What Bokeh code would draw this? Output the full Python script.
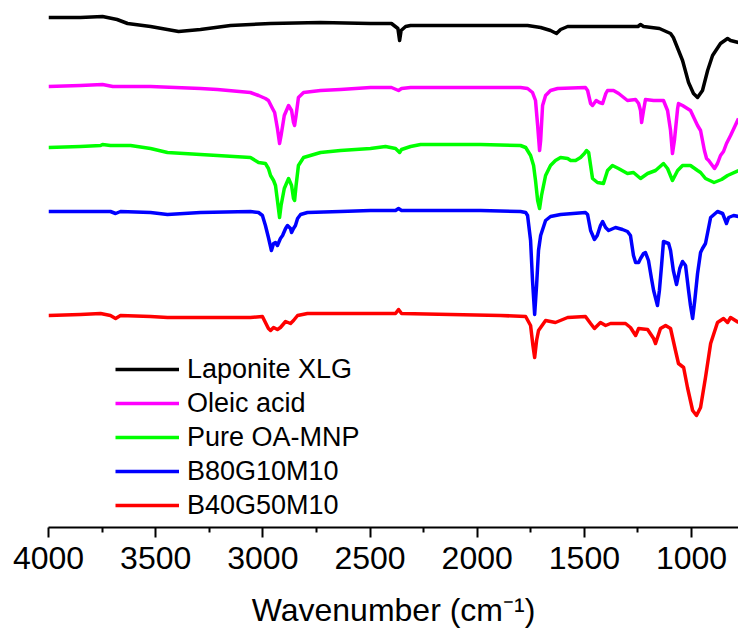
from bokeh.plotting import figure
from bokeh.models import Range1d, FixedTicker, Legend, LegendItem
from bokeh.embed import file_html
from bokeh.resources import INLINE

# ---- data (wavenumber in cm^-1, signal, stacked, larger = lower on page) ----
wn_lap = [4000, 3851, 3748, 3680, 3631, 3524, 3393, 3291, 3151, 2964, 2731, 2498, 2400, 2370, 2362,
          2355, 2334, 2311, 2124, 1891, 1765, 1704, 1658, 1630, 1611, 1578, 1400, 1250, 1238, 1224,
          1150, 1098, 1085, 1042, 1014, 991, 972, 949, 925, 902, 865, 832, 818, 781]
y_lap = [17, 17, 16, 19, 23, 26, 31, 29, 25, 23, 22, 23, 23, 28, 40,
         30, 26, 25, 25, 25, 25, 27, 30, 33, 29, 26, 26, 26, 24, 26,
         28, 33, 37, 60, 82, 93, 97, 90, 70, 55, 43, 38, 40, 42]

wn_ole = [4000, 3851, 3748, 3700, 3524, 3291, 3212, 3058, 3020, 2988, 2974, 2955, 2945, 2932, 2922,
          2915, 2900, 2880, 2866, 2857, 2852, 2845, 2834, 2810, 2731, 2638, 2498, 2400, 2367, 2353,
          2311, 1984, 1798, 1765, 1742, 1728, 1718, 1709, 1704, 1695, 1681, 1658, 1625, 1495, 1485,
          1471, 1462, 1445, 1430, 1415, 1400, 1392, 1364, 1340, 1299, 1261, 1247, 1238, 1233, 1224,
          1215, 1177, 1131, 1112, 1098, 1089, 1080, 1065, 1061, 1042, 1005, 972, 958, 940, 930,
          920, 893, 879, 865, 851, 837, 818, 781]
y_ole = [86, 85, 84, 86, 86, 88, 89, 92, 95, 98, 100, 108, 112, 128, 143,
         135, 115, 105, 110, 122, 125, 115, 97, 92, 90, 89, 87, 87, 90, 88,
         87, 87, 87, 88, 92, 100, 125, 150, 140, 105, 95, 90, 88, 87, 90,
         103, 105, 100, 102, 103, 93, 90, 90, 93, 100, 99, 103, 110, 122, 110,
         99, 100, 100, 110, 130, 153, 140, 108, 103, 105, 110, 125, 130, 150, 158,
         160, 168, 163, 155, 151, 143, 135, 118]

wn_mnp = [4000, 3851, 3757, 3748, 3711, 3617, 3524, 3445, 3291, 3212, 3058, 3020, 2988, 2974, 2964,
          2950, 2941, 2932, 2922, 2915, 2900, 2880, 2866, 2857, 2852, 2845, 2834, 2810, 2731, 2638,
          2498, 2428, 2381, 2362, 2353, 2311, 2264, 1984, 1798, 1774, 1751, 1737, 1728, 1718, 1709,
          1700, 1681, 1658, 1635, 1611, 1578, 1564, 1541, 1518, 1500, 1490, 1480, 1471, 1462, 1439,
          1411, 1392, 1369, 1341, 1299, 1271, 1238, 1205, 1168, 1131, 1112, 1089, 1065, 1042, 1005,
          972, 958, 935, 895, 860, 832, 781]
y_mnp = [147, 146, 145, 144, 145, 145, 148, 152, 154, 155, 157, 162, 163, 168, 175,
         180, 185, 200, 217, 205, 188, 178, 185, 198, 200, 185, 165, 157, 152, 150,
         148, 146, 148, 152, 149, 146, 144, 144, 145, 147, 155, 165, 180, 200, 208,
         195, 175, 165, 160, 157, 158, 160, 160, 157, 153, 150, 152, 165, 178, 182,
         183, 170, 165, 168, 173, 172, 178, 173, 170, 163, 168, 180, 170, 165, 165,
         170, 172, 178, 182, 179, 175, 170]

wn_b80 = [4000, 3851, 3711, 3687, 3664, 3524, 3445, 3291, 3058, 3020, 3002, 2988, 2974, 2960, 2950,
          2941, 2932, 2918, 2908, 2894, 2885, 2871, 2866, 2857, 2848, 2838, 2824, 2792, 2638, 2498,
          2381, 2367, 2353, 1984, 1798, 1774, 1765, 1751, 1742, 1732, 1723, 1714, 1704, 1681, 1658,
          1611, 1495, 1485, 1471, 1453, 1440, 1425, 1415, 1401, 1387, 1355, 1322, 1299, 1285, 1271,
          1261, 1247, 1238, 1224, 1215, 1201, 1187, 1177, 1159, 1150, 1140, 1131, 1107, 1098, 1085,
          1070, 1055, 1042, 1028, 1014, 1005, 995, 985, 972, 958, 949, 935, 911, 879, 855,
          837, 827, 804, 781]
y_b80 = [211, 211, 211, 213, 211, 212, 214, 212, 211, 212, 215, 225, 237, 250, 243,
         242, 245, 238, 235, 228, 225, 228, 232, 228, 225, 218, 214, 212, 211, 210,
         210, 208, 210, 210, 211, 212, 215, 240, 280, 314, 285, 250, 235, 220, 216,
         214, 212, 214, 230, 239, 235, 225, 221, 227, 230, 227, 229, 231, 235, 255,
         262, 262, 258, 253, 252, 260, 278, 290, 305, 290, 265, 241, 243, 250, 270,
         284, 268, 261, 265, 290, 305, 318, 300, 273, 252, 248, 243, 217, 211, 213,
         223, 217, 215, 216]

wn_b40 = [4000, 3851, 3757, 3711, 3687, 3664, 3524, 3445, 3291, 3058, 3002, 2988, 2974, 2964, 2950,
          2932, 2918, 2894, 2871, 2857, 2838, 2792, 2638, 2498, 2381, 2367, 2353, 2124, 1891, 1774,
          1751, 1740, 1732, 1723, 1714, 1681, 1635, 1578, 1495, 1471, 1453, 1425, 1401, 1378, 1308,
          1285, 1261, 1247, 1205, 1177, 1168, 1145, 1121, 1098, 1075, 1061, 1037, 1019, 995, 977,
          958, 935, 911, 879, 851, 832, 818, 781]
y_b40 = [315, 314, 313, 315, 318, 315, 316, 317, 317, 317, 316, 322, 328, 330, 327,
         329, 327, 321, 323, 320, 315, 313, 313, 313, 313, 309, 313, 314, 315, 316,
         325, 345, 357, 340, 330, 320, 322, 317, 316, 323, 328, 322, 325, 323, 323,
         327, 335, 328, 329, 338, 343, 328, 325, 328, 350, 363, 367, 387, 410, 415,
         407, 377, 343, 322, 318, 322, 317, 322]

labels = ["Laponite XLG", "Oleic acid", "Pure OA-MNP", "B80G10M10", "B40G50M10"]
colors = ["#000000", "#FF00FF", "#00FF00", "#0000FF", "#FF0000"]
major_ticks = [4000, 3500, 3000, 2500, 2000, 1500, 1000]
minor_ticks = [3750, 3250, 2750, 2250, 1750, 1250]

series = [(wn_lap, y_lap), (wn_ole, y_ole), (wn_mnp, y_mnp), (wn_b80, y_b80), (wn_b40, y_b40)]

FONT = "Liberation Sans"

p = figure(width=738, height=635, output_backend="svg", toolbar_location=None,
           x_range=Range1d(4000, 781), y_range=Range1d(527, 0), y_axis_type=None,
           min_border_left=48, min_border_right=0, min_border_top=0, min_border_bottom=108)
p.outline_line_color = None
p.grid.visible = False
p.background_fill_color = "white"

renderers = []
for (xs, ys), c in zip(series, colors):
    r = p.line(xs, ys, line_color=c, line_width=3.5, line_join="round")
    renderers.append(r)

ax = p.xaxis[0]
ax.ticker = FixedTicker(ticks=major_ticks, minor_ticks=minor_ticks)
ax.axis_line_width = 2
ax.axis_line_color = "black"
ax.major_tick_line_width = 2
ax.minor_tick_line_width = 2
ax.major_tick_out = 10
ax.major_tick_in = 0
ax.minor_tick_out = 5
ax.minor_tick_in = 0
ax.major_label_text_font = FONT
ax.major_label_text_font_size = "32px"
ax.major_label_text_color = "black"
ax.major_label_standoff = 9
ax.axis_label = "Wavenumber (cm\u207b\u00b9)"
ax.axis_label_text_font = FONT
ax.axis_label_text_font_size = "32px"
ax.axis_label_text_font_style = "normal"
ax.axis_label_text_color = "black"
ax.axis_label_standoff = 20

legend = Legend(items=[LegendItem(label=l, renderers=[r]) for l, r in zip(labels, renderers)],
                location=(67, 5), orientation="vertical",
                label_text_font=FONT, label_text_font_size="27px", label_text_color="black",
                glyph_width=64, glyph_height=34, label_height=34, spacing=0,
                padding=0, margin=0, label_standoff=8,
                border_line_color=None, background_fill_alpha=0)
p.add_layout(legend)

open("out.html", "w").write(file_html(p, INLINE))
